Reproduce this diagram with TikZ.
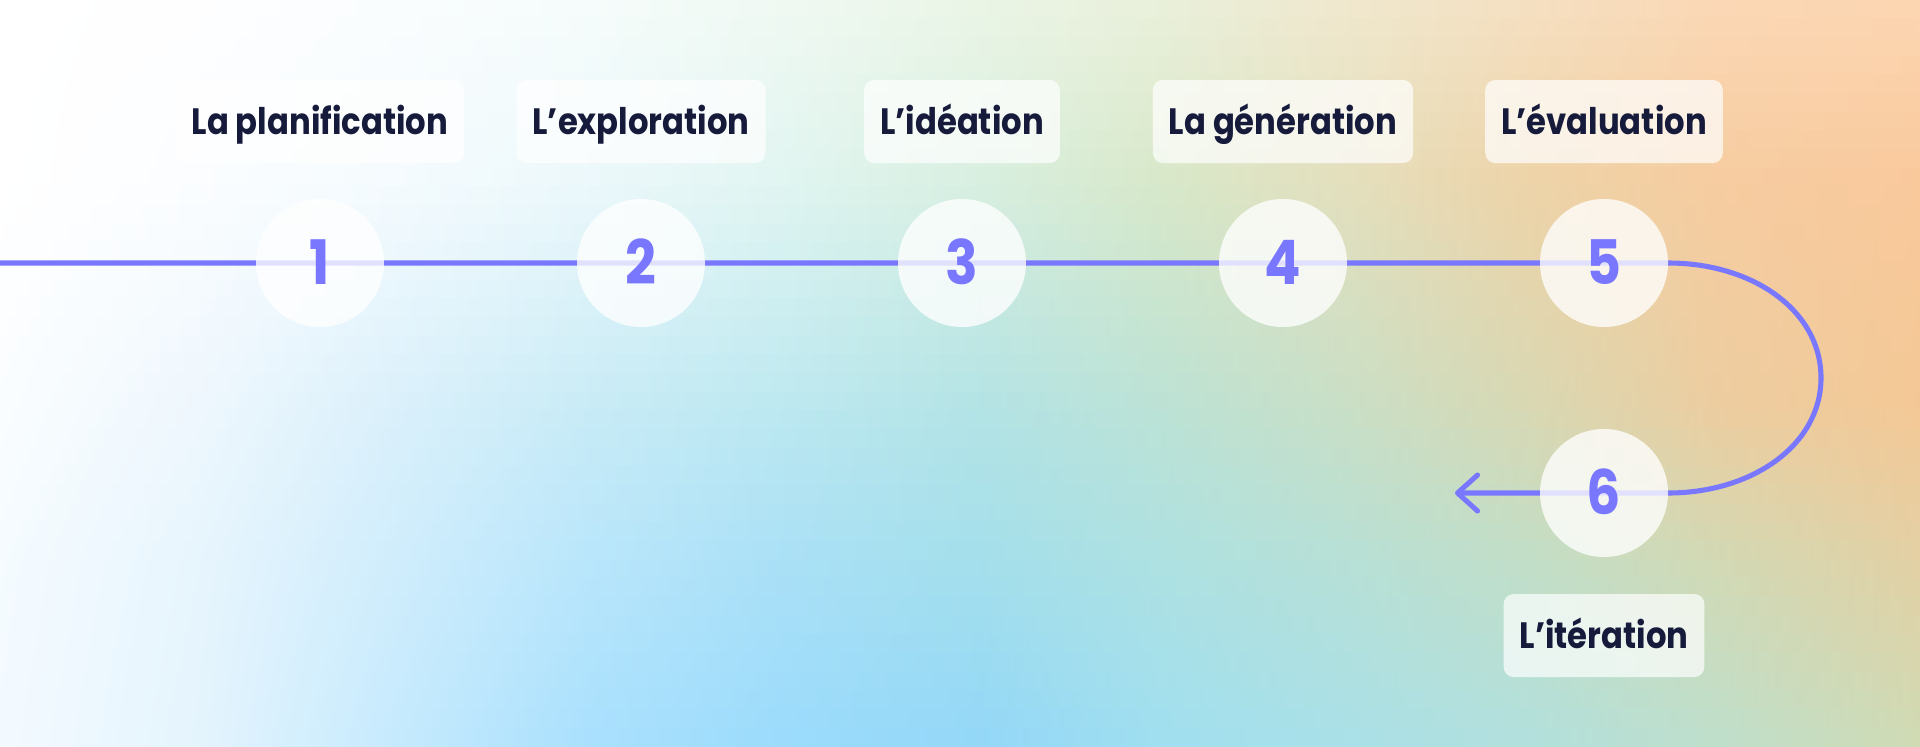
\documentclass[tikz,border=0pt]{standalone}
\usepackage{fontspec}
\setmainfont{Poppins}
\newfontfamily\labfont{Poppins}[FakeStretch=0.88]
\usetikzlibrary{arrows.meta}
\definecolor{flowc}{HTML}{7977FE}
\definecolor{inkc}{HTML}{171B3B}
% background colour grid: rows at y = 0, 180, 410, 560, 746 ; 11 columns
\definecolor{r0c0}{HTML}{FFFFFF}\definecolor{r0c1}{HTML}{FEFEFF}\definecolor{r0c2}{HTML}{FAFDFE}\definecolor{r0c3}{HTML}{F6FCFB}
\definecolor{r0c4}{HTML}{F0F9F2}\definecolor{r0c5}{HTML}{EBF5E6}\definecolor{r0c6}{HTML}{EAF0DB}\definecolor{r0c7}{HTML}{F0E8CE}
\definecolor{r0c8}{HTML}{F5E0C2}\definecolor{r0c9}{HTML}{FBD8B6}\definecolor{r0c10}{HTML}{FCD6B2}
\definecolor{r1c0}{HTML}{FFFFFF}\definecolor{r1c1}{HTML}{FBFDFF}\definecolor{r1c2}{HTML}{F5FBFE}\definecolor{r1c3}{HTML}{ECF8FB}
\definecolor{r1c4}{HTML}{E1F5F1}\definecolor{r1c5}{HTML}{D8EFE0}\definecolor{r1c6}{HTML}{D8E8C9}\definecolor{r1c7}{HTML}{E4DFBD}
\definecolor{r1c8}{HTML}{EED3A8}\definecolor{r1c9}{HTML}{F6CCA0}\definecolor{r1c10}{HTML}{F9C99C}
\definecolor{r2c0}{HTML}{FAFDFF}\definecolor{r2c1}{HTML}{EEF7FD}\definecolor{r2c2}{HTML}{DAF0FB}\definecolor{r2c3}{HTML}{C8EBF6}
\definecolor{r2c4}{HTML}{BCE8F0}\definecolor{r2c5}{HTML}{B3E3E5}\definecolor{r2c6}{HTML}{BCE2D5}\definecolor{r2c7}{HTML}{C9DFC6}
\definecolor{r2c8}{HTML}{D8D8B3}\definecolor{r2c9}{HTML}{ECCDA0}\definecolor{r2c10}{HTML}{F4C896}
\definecolor{r3c0}{HTML}{F5FBFF}\definecolor{r3c1}{HTML}{E7F5FD}\definecolor{r3c2}{HTML}{D0EDFC}\definecolor{r3c3}{HTML}{B9E6FB}
\definecolor{r3c4}{HTML}{AAE0F6}\definecolor{r3c5}{HTML}{A4DFEB}\definecolor{r3c6}{HTML}{AEE1E1}\definecolor{r3c7}{HTML}{B7E0D6}
\definecolor{r3c8}{HTML}{C2DEC7}\definecolor{r3c9}{HTML}{D2D9B4}\definecolor{r3c10}{HTML}{E3D0A4}
\definecolor{r4c0}{HTML}{F3FAFF}\definecolor{r4c1}{HTML}{E4F4FD}\definecolor{r4c2}{HTML}{C6EAFD}\definecolor{r4c3}{HTML}{A9E0FD}
\definecolor{r4c4}{HTML}{9BDBFC}\definecolor{r4c5}{HTML}{93D7F8}\definecolor{r4c6}{HTML}{A0DFF0}\definecolor{r4c7}{HTML}{A9E0E8}
\definecolor{r4c8}{HTML}{B2E0DD}\definecolor{r4c9}{HTML}{BEDFCC}\definecolor{r4c10}{HTML}{CFDBB4}
\pgfdeclarelayer{bglayer}
\pgfdeclarelayer{linelayer}
\pgfsetlayers{bglayer,linelayer,main}
\tikzset{
  flow/.style={draw=flowc, line width=3.8pt, line cap=round, line join=round},
  stepcirc/.style={circle, minimum size=96pt, inner sep=0pt, fill=white, fill opacity=0.78, text opacity=1,
    text=flowc, font=\labfont\bfseries\fontsize{46}{46}\selectfont, text height=32.25pt, text depth=0pt},
  labelbox/.style={rectangle, rounded corners=7.5pt, fill=white, fill opacity=0.7, text opacity=1,
    text=inkc, font=\labfont\bfseries\fontsize{27.5}{30}\selectfont, text height=19.3pt, text depth=0pt,
    minimum height=62.25pt, inner xsep=12pt, inner ysep=0pt}
}
\begin{document}
\begin{tikzpicture}[x=0.75pt, y=-0.75pt]
\useasboundingbox (0,0) rectangle (1920,746);
\begin{pgfonlayer}{bglayer}
\clip (0,0) rectangle (1920,746);
\foreach \j in {0,...,39}{%
  \pgfmathsetmacro\ya{\j*18.65}%
  \pgfmathsetmacro\yb{\ya+19.4}%
  \pgfmathsetmacro\ym{\ya+9.325}%
  \pgfmathtruncatemacro\ra{\ym<180 ? 0 : (\ym<410 ? 1 : (\ym<560 ? 2 : 3))}%
  \pgfmathtruncatemacro\rb{\ra+1}%
  \pgfmathsetmacro\tp{100*(\ym<180 ? \ym/180 : (\ym<410 ? (\ym-180)/230 : (\ym<560 ? (\ym-410)/150 : (\ym-560)/186)))}%
  \foreach \c in {0,...,10}{\xglobal\colorlet{s\c}{r\rb c\c!\tp!r\ra c\c}}%
  \pgfdeclarehorizontalshading{strip\j}{100bp}{color(0bp)=(s0); color(25bp)=(s0); color(30.1bp)=(s1); color(35.2bp)=(s2); color(40.31bp)=(s3); color(45.41bp)=(s4); color(50.51bp)=(s5); color(55.29bp)=(s6); color(60.08bp)=(s7); color(64.86bp)=(s8); color(69.64bp)=(s9); color(75bp)=(s10); color(100bp)=(s10)}%
  \shade[shading=strip\j] (0,\ya) rectangle (1920,\yb);
}
\end{pgfonlayer}

\coordinate (s) at (0,263);
\coordinate (e) at (1455,493);
\coordinate (k1) at (1752,263);
\coordinate (k2) at (1821,310);
\coordinate (m) at (1821,378);
\coordinate (k3) at (1821,445);
\coordinate (k4) at (1752,493);

\node[stepcirc] (c1) at (320,263) {1};
\node[stepcirc] (c2) at (641,263) {2};
\node[stepcirc] (c3) at (962,263) {3};
\node[stepcirc] (c4) at (1283,263) {4};
\node[stepcirc] (c5) at (1604,263) {5};
\node[stepcirc] (c6) at (1604,493) {6};

\begin{pgfonlayer}{linelayer}
\draw[flow, -{Straight Barb[length=15pt, width=27pt, round]}]
  (s) -- (c5.center) -- (c5.east) .. controls (k1) and (k2) .. (m) .. controls (k3) and (k4) .. (c6.east) -- (c6.center) -- (e);
\end{pgfonlayer}

\node[labelbox] (l1) at (320,121.5) {La planification};
\node[labelbox] (l2) at (641,121.5) {L’exploration};
\node[labelbox] (l3) at (962,121.5) {L’idéation};
\node[labelbox] (l4) at (1283,121.5) {La génération};
\node[labelbox] (l5) at (1604,121.5) {L’évaluation};
\node[labelbox] (l6) at (1604,635.5) {L’itération};
\end{tikzpicture}
\end{document}
